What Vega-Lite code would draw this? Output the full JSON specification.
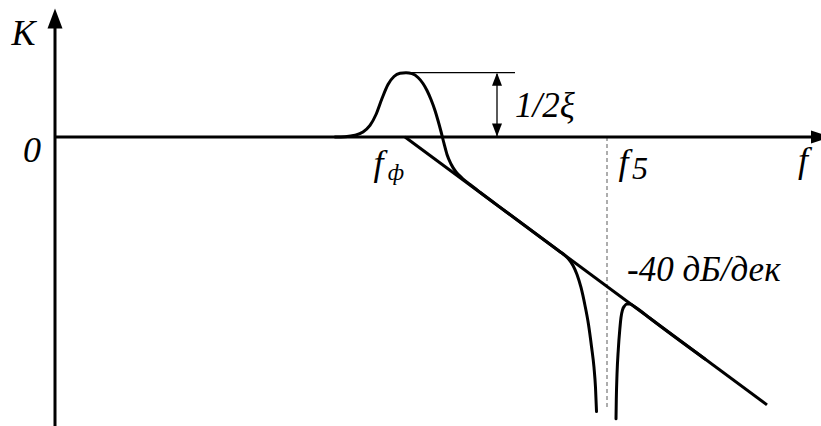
{
  "$schema": "https://vega.github.io/schema/vega-lite/v6.json",
  "width": 821,
  "height": 426,
  "autosize": {"type": "none"},
  "padding": 0,
  "background": "white",
  "config": {"view": {"stroke": null}},
  "datasets": {
    "response": [
      {"branch": "a", "i": 0, "x": 2.80, "y": 0},
      {"branch": "a", "i": 1, "x": 2.90, "y": 0.16},
      {"branch": "a", "i": 2, "x": 3.00, "y": 0.92},
      {"branch": "a", "i": 3, "x": 3.08, "y": 2.70},
      {"branch": "a", "i": 4, "x": 3.15, "y": 6.22},
      {"branch": "a", "i": 5, "x": 3.21, "y": 12.16},
      {"branch": "a", "i": 6, "x": 3.27, "y": 20.81},
      {"branch": "a", "i": 7, "x": 3.33, "y": 28.38},
      {"branch": "a", "i": 8, "x": 3.39, "y": 32.70},
      {"branch": "a", "i": 9, "x": 3.45, "y": 34.43},
      {"branch": "a", "i": 10, "x": 3.51, "y": 34.76},
      {"branch": "a", "i": 11, "x": 3.57, "y": 34.22},
      {"branch": "a", "i": 12, "x": 3.63, "y": 32.16},
      {"branch": "a", "i": 13, "x": 3.68, "y": 28.92},
      {"branch": "a", "i": 14, "x": 3.72, "y": 25.14},
      {"branch": "a", "i": 15, "x": 3.76, "y": 20.27},
      {"branch": "a", "i": 16, "x": 3.80, "y": 14.32},
      {"branch": "a", "i": 17, "x": 3.83, "y": 8.92},
      {"branch": "a", "i": 18, "x": 3.86, "y": 2.97},
      {"branch": "a", "i": 19, "x": 3.89, "y": -3.51},
      {"branch": "a", "i": 20, "x": 3.92, "y": -9.46},
      {"branch": "a", "i": 21, "x": 3.96, "y": -14.59},
      {"branch": "a", "i": 22, "x": 4.01, "y": -18.92},
      {"branch": "a", "i": 23, "x": 4.07, "y": -22.16},
      {"branch": "a", "i": 24, "x": 4.15, "y": -25.7},
      {"branch": "a", "i": 25, "x": 4.25, "y": -29.9},
      {"branch": "a", "i": 26, "x": 4.50, "y": -40},
      {"branch": "a", "i": 27, "x": 5.00, "y": -60},
      {"branch": "a", "i": 28, "x": 5.05, "y": -62},
      {"branch": "a", "i": 29, "x": 5.10, "y": -64.05},
      {"branch": "a", "i": 30, "x": 5.14, "y": -66.3},
      {"branch": "a", "i": 31, "x": 5.18, "y": -69.46},
      {"branch": "a", "i": 32, "x": 5.22, "y": -74.32},
      {"branch": "a", "i": 33, "x": 5.26, "y": -81.35},
      {"branch": "a", "i": 34, "x": 5.30, "y": -91.08},
      {"branch": "a", "i": 35, "x": 5.335, "y": -101.35},
      {"branch": "a", "i": 36, "x": 5.365, "y": -113.24},
      {"branch": "a", "i": 37, "x": 5.39, "y": -124.59},
      {"branch": "a", "i": 38, "x": 5.405, "y": -135.41},
      {"branch": "a", "i": 39, "x": 5.415, "y": -148.38},
      {"branch": "b", "i": 0, "x": 5.61, "y": -152.32},
      {"branch": "b", "i": 1, "x": 5.613, "y": -141.89},
      {"branch": "b", "i": 2, "x": 5.62, "y": -128.38},
      {"branch": "b", "i": 3, "x": 5.633, "y": -114.86},
      {"branch": "b", "i": 4, "x": 5.648, "y": -104.05},
      {"branch": "b", "i": 5, "x": 5.66, "y": -97.57},
      {"branch": "b", "i": 6, "x": 5.675, "y": -93.51},
      {"branch": "b", "i": 7, "x": 5.695, "y": -91.35},
      {"branch": "b", "i": 8, "x": 5.72, "y": -90.27},
      {"branch": "b", "i": 9, "x": 5.75, "y": -90.27},
      {"branch": "b", "i": 10, "x": 5.79, "y": -91.51},
      {"branch": "b", "i": 11, "x": 5.85, "y": -93.78},
      {"branch": "b", "i": 12, "x": 5.95, "y": -98},
      {"branch": "b", "i": 13, "x": 6.50, "y": -120}
    ],
    "segments": [
      {"role": "axis", "x": 0, "y": -160, "x2": 0, "y2": 60},
      {"role": "axis", "x": 0, "y": 0, "x2": 7.58, "y2": 0},
      {"role": "asymptote", "x": 3.5, "y": 0, "x2": 7.12, "y2": -144.8},
      {"role": "guide", "x": 3.51, "y": 34.76, "x2": 4.60, "y2": 34.76},
      {"role": "guide", "x": 4.42, "y": 34.0, "x2": 4.42, "y2": 0.5},
      {"role": "f5", "x": 5.52, "y": 0, "x2": 5.52, "y2": -146.2}
    ],
    "heads": [
      {"head": "K-axis", "x": 0, "y": 69.46},
      {"head": "f-axis", "x": 7.76, "y": 0},
      {"head": "gain-top", "x": 4.42, "y": 34.76},
      {"head": "gain-bottom", "x": 4.42, "y": 0.2}
    ],
    "labels": [
      {"size": "big", "text": "K", "x": -0.315, "y": 49.5, "anchor": "center"},
      {"size": "big", "text": "0", "x": -0.23, "y": -13.6, "anchor": "center"},
      {"size": "big", "text": "f", "x": 3.235, "y": -20.8, "anchor": "center"},
      {"size": "sub", "text": "ф", "x": 3.41, "y": -23.24, "anchor": "center"},
      {"size": "big", "text": "f", "x": 5.685, "y": -20.27, "anchor": "center"},
      {"size": "mid", "text": "5", "x": 5.85, "y": -22.97, "anchor": "center"},
      {"size": "big", "text": "f", "x": 7.48, "y": -19.19, "anchor": "center"},
      {"size": "note", "text": "1/2ξ", "x": 4.60, "y": 10.54, "anchor": "left"},
      {"size": "note", "text": "-40 дБ/дек", "x": 5.72, "y": -78.1, "anchor": "left"}
    ]
  },
  "encoding": {
    "x": {"field": "x", "type": "quantitative", "axis": null,
          "scale": {"domain": [-0.55, 7.66], "nice": false, "zero": false}},
    "y": {"field": "y", "type": "quantitative", "axis": null,
          "scale": {"domain": [-156.22, 74.05], "nice": false, "zero": false}}
  },
  "layer": [
    {
      "data": {"name": "segments"},
      "transform": [{"filter": "datum.role === 'f5'"}],
      "mark": {"type": "rule", "color": "#777777", "strokeWidth": 1.2, "strokeDash": [4, 3]},
      "encoding": {"x2": {"field": "x2"}, "y2": {"field": "y2"}}
    },
    {
      "data": {"name": "segments"},
      "transform": [{"filter": "datum.role === 'guide'"}],
      "mark": {"type": "rule", "color": "black", "strokeWidth": 1.3},
      "encoding": {"x2": {"field": "x2"}, "y2": {"field": "y2"}}
    },
    {
      "data": {"name": "segments"},
      "transform": [{"filter": "datum.role === 'axis' || datum.role === 'asymptote'"}],
      "mark": {"type": "rule", "color": "black", "strokeWidth": 3},
      "encoding": {"x2": {"field": "x2"}, "y2": {"field": "y2"}}
    },
    {
      "data": {"name": "response"},
      "mark": {"type": "line", "color": "black", "strokeWidth": 3, "interpolate": "monotone", "strokeCap": "round", "strokeJoin": "round"},
      "encoding": {
        "detail": {"field": "branch"},
        "order": {"field": "i", "type": "quantitative"}
      }
    },
    {
      "data": {"name": "heads"},
      "mark": {"type": "point", "filled": true, "color": "black", "opacity": 1, "strokeWidth": 0, "size": 400},
      "encoding": {
        "shape": {
          "field": "head", "type": "nominal", "legend": null,
          "scale": {
            "domain": ["K-axis", "f-axis", "gain-top", "gain-bottom"],
            "range": [
              "M0,0L0.75,2L-0.75,2Z",
              "M0,0L-2,-0.65L-2,0.65Z",
              "M0,0L0.5,1.3L-0.5,1.3Z",
              "M0,0L0.5,-1.3L-0.5,-1.3Z"
            ]
          }
        }
      }
    },
    {
      "data": {"name": "labels"},
      "transform": [{"filter": "datum.size === 'big'"}],
      "mark": {"type": "text", "font": "Liberation Serif", "fontStyle": "italic", "fontSize": 36, "baseline": "alphabetic", "align": "center", "color": "black"},
      "encoding": {"text": {"field": "text"}}
    },
    {
      "data": {"name": "labels"},
      "transform": [{"filter": "datum.size === 'sub'"}],
      "mark": {"type": "text", "font": "Liberation Serif", "fontStyle": "italic", "fontSize": 23, "baseline": "alphabetic", "align": "center", "color": "black"},
      "encoding": {"text": {"field": "text"}}
    },
    {
      "data": {"name": "labels"},
      "transform": [{"filter": "datum.size === 'mid'"}],
      "mark": {"type": "text", "font": "Liberation Serif", "fontStyle": "italic", "fontSize": 32, "baseline": "alphabetic", "align": "center", "color": "black"},
      "encoding": {"text": {"field": "text"}}
    },
    {
      "data": {"name": "labels"},
      "transform": [{"filter": "datum.size === 'note'"}],
      "mark": {"type": "text", "font": "Liberation Serif", "fontStyle": "italic", "fontSize": 35, "baseline": "alphabetic", "align": "left", "color": "black"},
      "encoding": {"text": {"field": "text"}}
    }
  ]
}
